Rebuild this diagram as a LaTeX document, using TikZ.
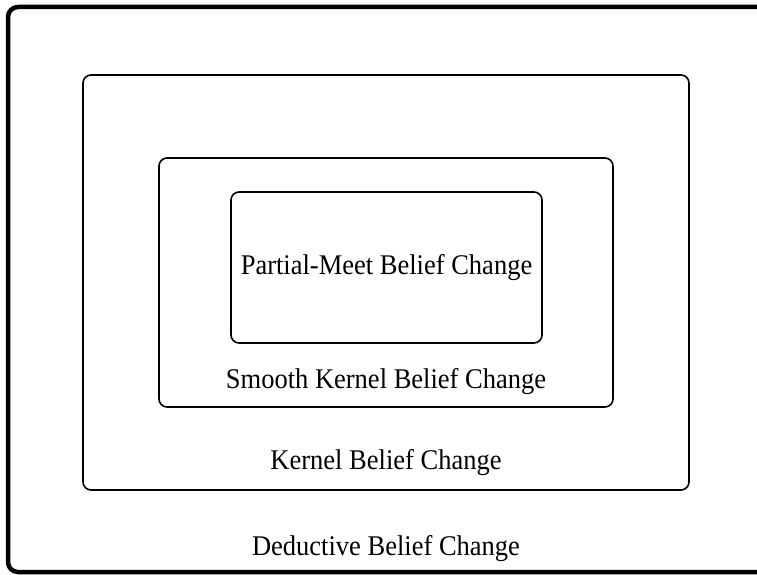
\documentclass[tikz,border=0pt]{standalone}
\usepackage{fontspec}
\setmainfont{Liberation Serif}
\newfontfamily\setfont[FakeStretch=0.93]{Liberation Serif}
\usetikzlibrary{positioning}
\tikzset{
	setbox/.style={draw=black, line width=1.6pt, rounded corners=8pt, inner sep=0pt},
	outerset/.style={draw=black, line width=4.5pt, rounded corners=10pt, inner sep=0pt},
	setlabel/.style={inner sep=0pt, anchor=base, font=\setfont\fontsize{28.5}{34}\selectfont}
}
\begin{document}
\begin{tikzpicture}[x=1pt, y=1pt]
	\clip (0,0) rectangle (757,574);
	% nested sets of belief change operators
	\node[outerset, minimum width=772pt, minimum height=565pt] (deductive) at (394,284.5) {};
	\node[setbox, minimum width=606pt, minimum height=415pt] (kernel) at (386,291.5) {};
	\node[setbox, minimum width=454pt, minimum height=249pt] (smooth) at (386,291.5) {};
	\node[setbox, minimum width=311pt, minimum height=151pt] (partial) at (386.5,306.5) {};
	% labels
	\node[setlabel] (partiallbl) at ([yshift=-6.5pt]partial.center) {Partial-Meet Belief Change};
	\node[setlabel] (smoothlbl) at ([yshift=19pt]smooth.south) {Smooth Kernel Belief Change};
	\node[setlabel] (kernellbl) at ([yshift=21pt]kernel.south) {Kernel Belief Change};
	\node[setlabel] (deductivelbl) at ([xshift=-8pt,yshift=19pt]deductive.south) {Deductive Belief Change};
\end{tikzpicture}
\end{document}
